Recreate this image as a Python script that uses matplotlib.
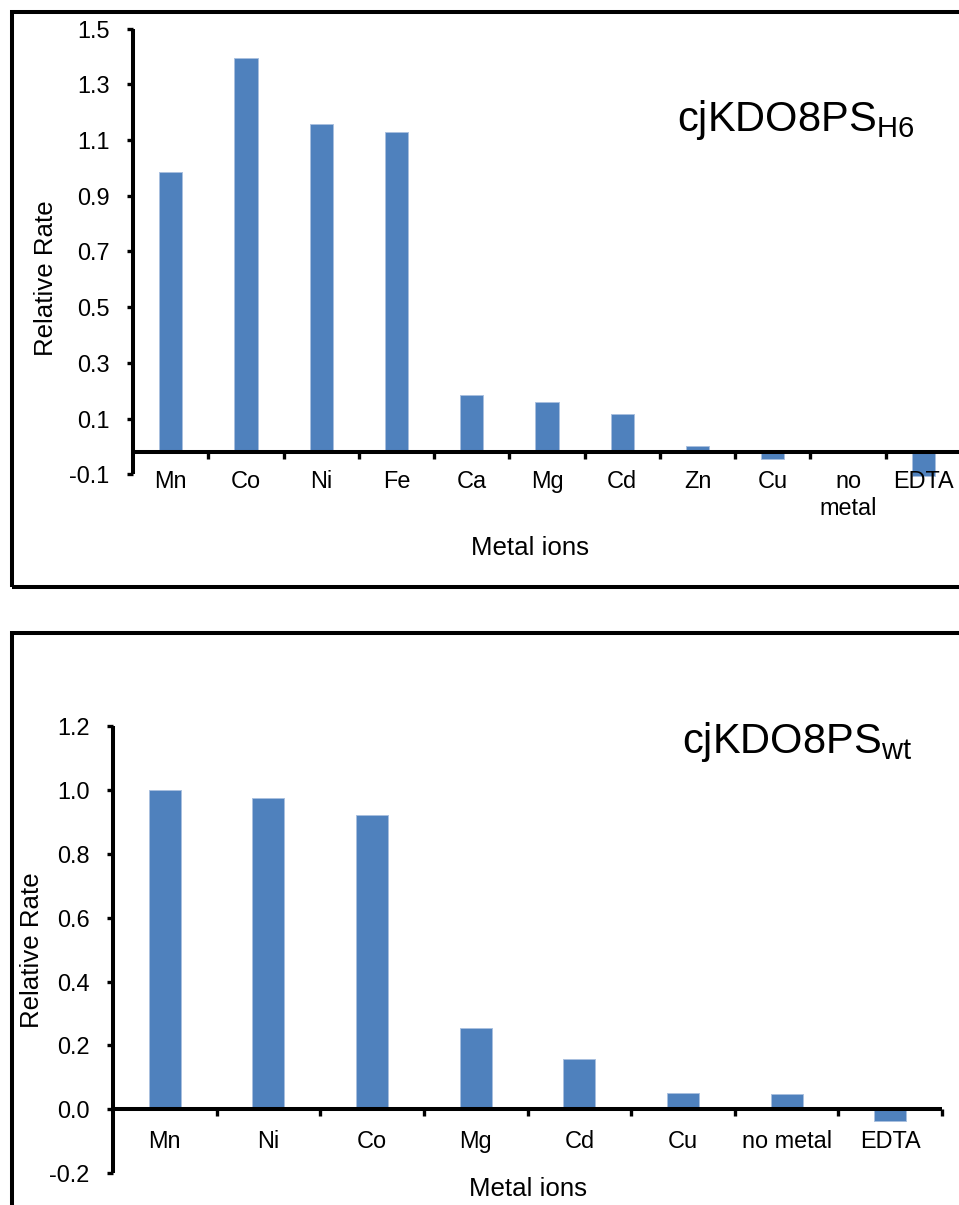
import matplotlib
matplotlib.use("Agg")
import matplotlib.pyplot as plt
import numpy as np
from matplotlib.patches import Rectangle

plt.rcParams["font.family"] = ["Liberation Sans", "DejaVu Sans"]
plt.rcParams["mathtext.fontset"] = "custom"
plt.rcParams["mathtext.rm"] = "Liberation Sans"
plt.rcParams["mathtext.it"] = "Liberation Sans:italic"

# His6-tagged enzyme
h6_metals = ["Mn", "Co", "Ni", "Fe", "Ca", "Mg", "Cd", "Zn", "Cu", "no\nmetal", "EDTA"]
h6_rates = [0.984, 1.395, 1.159, 1.127, 0.186, 0.161, 0.118, 0.003, -0.045, -0.02, -0.107]
h6_yticks = [-0.1, 0.1, 0.3, 0.5, 0.7, 0.9, 1.1, 1.3, 1.5]

# wild-type enzyme
wt_metals = ["Mn", "Ni", "Co", "Mg", "Cd", "Cu", "no metal", "EDTA"]
wt_rates = [1.0, 0.974, 0.923, 0.254, 0.157, 0.052, 0.049, -0.035]
wt_yticks = [-0.2, 0.0, 0.2, 0.4, 0.6, 0.8, 1.0, 1.2]

BAR_COLOR = "#4F81BD"
W, H = 959, 1205
FS_TICK = 16.9
FS_LABEL = 18.6


def fx(px):
    return px / W


def fy(py):
    return 1 - py / H


def draw_panel(ax, metals, rates, yticks, baseline, ylim, fmt, label_pad):
    x = np.arange(len(metals))
    heights = np.array(rates) - baseline
    ax.bar(x, heights, bottom=baseline, width=0.31, color=BAR_COLOR,
           edgecolor="#A9C0DF", linewidth=0.7, clip_on=False, zorder=1)
    ax.set_xlim(-0.5, len(metals) - 0.5)
    ax.set_ylim(*ylim)
    ax.spines["top"].set_visible(False)
    ax.spines["right"].set_visible(False)
    ax.spines["bottom"].set_position(("data", baseline))
    for side in ("left", "bottom"):
        ax.spines[side].set_linewidth(2.9)
        ax.spines[side].set_capstyle("butt")

    ax.set_yticks(yticks)
    ax.set_yticklabels([fmt.format(v) for v in yticks])
    ax.tick_params(axis="y", direction="out", length=4.5, width=2.4,
                   pad=12.5, labelsize=FS_TICK)

    # boundary ticks on the category axis, names centred between them
    ax.set_xticks(np.arange(len(metals)) + 0.5)
    ax.set_xticklabels([])
    ax.set_xticks(x, minor=True)
    ax.set_xticklabels(metals, minor=True)
    ax.tick_params(axis="x", which="major", direction="out", length=5,
                   width=2.4)
    ax.tick_params(axis="x", which="minor", length=0, pad=label_pad,
                   labelsize=FS_TICK)
    ax.grid(False)


fig = plt.figure(figsize=(W / 100, H / 100), dpi=100)

# outer frames of both panels
fig.add_artist(Rectangle((fx(12), fy(587)), 1.2, fy(12) - fy(587),
                         transform=fig.transFigure, fill=False,
                         edgecolor="black", linewidth=2.9))
fig.add_artist(Rectangle((fx(12), -0.1), 1.2, fy(633) + 0.1,
                         transform=fig.transFigure, fill=False,
                         edgecolor="black", linewidth=2.9))

ax1 = fig.add_axes([fx(133), fy(474.3), fx(961 - 133), fy(28.5) - fy(474.3)])
draw_panel(ax1, h6_metals, h6_rates, h6_yticks, -0.02, (-0.1, 1.5),
           "{:.1f}", 13)

ax2 = fig.add_axes([fx(113), fy(1173.3), fx(942 - 113), fy(726) - fy(1173.3)])
draw_panel(ax2, wt_metals, wt_rates, wt_yticks, 0.0, (-0.2, 1.2),
           "{:.1f}", 15)

fig.text(fx(46), fy(278), "Relative Rate", rotation=90, ha="center",
         va="center", fontsize=FS_LABEL)
fig.text(fx(32), fy(950), "Relative Rate", rotation=90, ha="center",
         va="center", fontsize=FS_LABEL)
fig.text(fx(530), fy(548), "Metal ions", ha="center", va="center",
         fontsize=FS_LABEL)
fig.text(fx(528), fy(1189), "Metal ions", ha="center", va="center",
         fontsize=FS_LABEL)

fig.text(fx(677), fy(130.7), r"cjKDO8PS$_{\mathrm{H6}}$", ha="left",
         va="baseline", fontsize=30)
fig.text(fx(682), fy(753.3), r"cjKDO8PS$_{\mathrm{wt}}$", ha="left",
         va="baseline", fontsize=30)

fig.savefig("out.png", dpi=100)
plt.close(fig)
